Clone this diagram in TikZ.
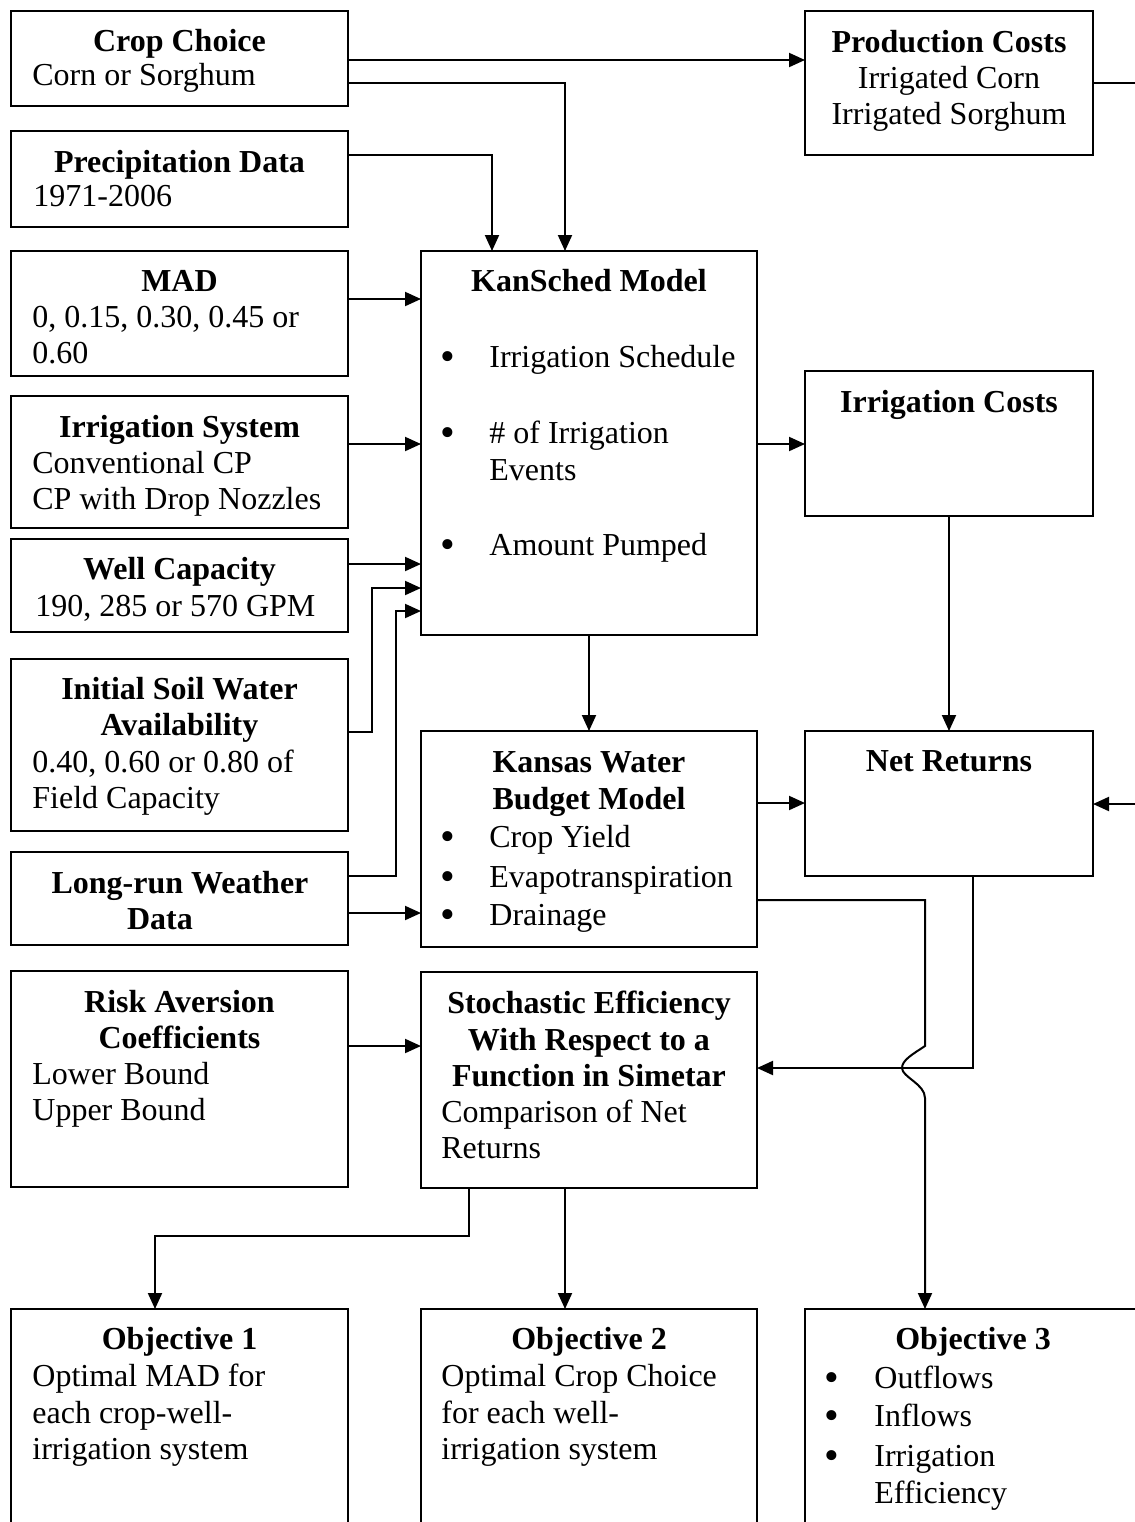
\documentclass[tikz,border=0pt]{standalone}
\usepackage{fontspec}
\setmainfont{Liberation Serif}
\usetikzlibrary{arrows.meta,fit,calc}
\newcommand\mybul{\raisebox{-1.5pt}{\fontsize{21}{18}\selectfont\textbullet}}
\begin{document}
\begin{tikzpicture}[x=0.5pt,y=-0.5pt,
  box/.style={draw, line width=1pt, inner sep=0pt, outer sep=0pt},
  txt/.style={inner sep=0pt, font=\fontsize{16}{18}\selectfont},
  ttl/.style={inner sep=0pt, font=\fontsize{16}{18}\selectfont\bfseries, anchor=base},
  lft/.style={txt, anchor=base west},
  ctr/.style={txt, anchor=base},
  bul/.style={inner sep=0pt, anchor=base},
  con/.style={line width=1pt, -{Triangle[length=8pt,width=7pt]}},
  ln/.style={line width=1pt}]
\useasboundingbox (0,0) rectangle (1135,1522);
\clip (0,0) rectangle (1135,1522);
\fill[white] (0,0) rectangle (1135,1522);

% ---------- boxes ----------
\node[box, fit={(11,11)(348,106)}] (crop) {};
\node[box, fit={(11,131)(348,227)}] (prec) {};
\node[box, fit={(11,251)(348,376)}] (mad) {};
\node[box, fit={(11,396)(348,528)}] (irr) {};
\node[box, fit={(11,539)(348,632)}] (well) {};
\node[box, fit={(11,659)(348,831)}] (soil) {};
\node[box, fit={(11,852)(348,945)}] (weather) {};
\node[box, fit={(11,971)(348,1187)}] (risk) {};
\node[box, fit={(11,1309)(348,1580)}] (obj1) {};

\node[box, fit={(421,251)(757,635)}] (kan) {};
\node[box, fit={(421,731)(757,947)}] (kwb) {};
\node[box, fit={(421,972)(757,1188)}] (stoch) {};
\node[box, fit={(421,1309)(757,1580)}] (obj2) {};

\node[box, fit={(805,11)(1093,155)}] (prod) {};
\node[box, fit={(805,371)(1093,516)}] (icost) {};
\node[box, fit={(805,731)(1093,876)}] (net) {};
\node[box, fit={(805,1309)(1170,1580)}] (obj3) {};

% ---------- texts: left column ----------
\node[ttl] (t1) at (179.5,51) {Crop Choice};
\node[lft] (t2) at (32,85) {Corn or Sorghum};
\node[ttl] (t3) at (179.5,172) {Precipitation Data};
\node[lft] (t4) at (33,206) {1971-2006};
\node[ttl] (t5) at (179.5,291) {MAD};
\node[lft] (t6) at (32,327) {0, 0.15, 0.30, 0.45 or};
\node[lft] (t7) at (32,363) {0.60};
\node[ttl] (t8) at (179.5,437) {Irrigation System};
\node[lft] (t9) at (32,473) {Conventional CP};
\node[lft] (t10) at (32,509) {CP with Drop Nozzles};
\node[ttl] (t11) at (179.5,579) {Well Capacity};
\node[lft] (t12) at (35,616) {190, 285 or 570 GPM};
\node[ttl] (t13) at (179.5,699) {Initial Soil Water};
\node[ttl] (t14) at (179.5,735) {Availability};
\node[lft] (t15) at (32,772) {0.40, 0.60 or 0.80 of};
\node[lft] (t16) at (32,808) {Field Capacity};
\node[ttl] (t17) at (180,893) {Long-run Weather};
\node[ttl] (t18) at (160,929) {Data};
\node[ttl] (t19) at (179.5,1012) {Risk Aversion};
\node[ttl] (t20) at (179.5,1048) {Coefficients};
\node[lft] (t21) at (32,1084) {Lower Bound};
\node[lft] (t22) at (32,1120) {Upper Bound};
\node[ttl] (t23) at (179.5,1349) {Objective 1};
\node[lft] (t24) at (32,1386) {Optimal MAD for};
\node[lft] (t25) at (32,1423) {each crop-well-};
\node[lft] (t26) at (32,1459) {irrigation system};

% ---------- texts: middle column ----------
\node[ttl] (m1) at (589,291) {KanSched Model};
\node[bul] (b1) at (448,367) {\mybul};
\node[lft] (m2) at (489,367) {Irrigation Schedule};
\node[bul] (b2) at (448,443) {\mybul};
\node[lft] (m3) at (489,443) {\# of Irrigation};
\node[lft] (m4) at (489,480) {Events};
\node[bul] (b3) at (448,555) {\mybul};
\node[lft] (m5) at (489,555) {Amount Pumped};

\node[ttl] (m6) at (589,772) {Kansas Water};
\node[ttl] (m7) at (589,809) {Budget Model};
\node[bul] (b4) at (448,847) {\mybul};
\node[lft] (m8) at (489,847) {Crop Yield};
\node[bul] (b5) at (448,887) {\mybul};
\node[lft] (m9) at (489,887) {Evapotranspiration};
\node[bul] (b6) at (448,925) {\mybul};
\node[lft] (m10) at (489,925) {Drainage};

\node[ttl] (m11) at (589,1013) {Stochastic Efficiency};
\node[ttl] (m12) at (589,1050) {With Respect to a};
\node[ttl] (m13) at (589,1086) {Function in Simetar};
\node[lft] (m14) at (441,1122) {Comparison of Net};
\node[lft] (m15) at (441,1158) {Returns};

\node[ttl] (m16) at (589,1349) {Objective 2};
\node[lft] (m17) at (441,1386) {Optimal Crop Choice};
\node[lft] (m18) at (441,1423) {for each well-};
\node[lft] (m19) at (441,1459) {irrigation system};

% ---------- texts: right column ----------
\node[ttl] (r1) at (949,52) {Production Costs};
\node[ctr] (r2) at (949,88) {Irrigated Corn};
\node[ctr] (r3) at (949,124) {Irrigated Sorghum};
\node[ttl] (r4) at (949,412) {Irrigation Costs};
\node[ttl] (r5) at (949,771) {Net Returns};
\node[ttl] (r6) at (973,1349) {Objective 3};
\node[bul] (b7) at (832,1388) {\mybul};
\node[lft] (r7) at (874,1388) {Outflows};
\node[bul] (b8) at (832,1426) {\mybul};
\node[lft] (r8) at (874,1426) {Inflows};
\node[bul] (b9) at (832,1466) {\mybul};
\node[lft] (r9) at (874,1466) {Irrigation};
\node[lft] (r10) at (874,1503) {Efficiency};

% ---------- connectors ----------
\draw[con] (crop.east |- 0,60) -- (prod.west |- 0,60);
\draw[con] (crop.east |- 0,83) -| (565,0 |- kan.north);
\draw[con] (prec.east |- 0,155) -| (492,0 |- kan.north);
\draw[con] (mad.east |- 0,299) -- (kan.west |- 0,299);
\draw[con] (irr.east |- 0,444) -- (kan.west |- 0,444);
\draw[con] (well.east |- 0,564) -- (kan.west |- 0,564);
\draw[con] (soil.east |- 0,732) -- (372,732) |- (kan.west |- 0,588);
\draw[con] (weather.east |- 0,876) -- (396,876) |- (kan.west |- 0,611);
\draw[con] (weather.east |- 0,913) -- (kwb.west |- 0,913);
\draw[con] (prod.east |- 0,83) -- (1180,83) |- (net.east |- 0,804);
\draw[con] (kan.east |- 0,444) -- (icost.west |- 0,444);
\draw[con] (kan.south) -- (kwb.north);
\draw[con] (icost.south) -- (net.north);
\draw[con] (kwb.east |- 0,803) -- (net.west |- 0,803);
\draw[con] (risk.east |- 0,1046) -- (stoch.west |- 0,1046);
\draw[con] (973,0 |- net.south) |- (stoch.east |- 0,1068);
\draw[con] (kwb.east |- 0,900) -| (925,1046)
   .. controls (913,1054) and (902,1060) .. (902,1068)
   .. controls (902,1077) and (925,1084) .. (925,1098)
   -- (925,0 |- obj3.north);
\draw[con] (469,0 |- stoch.south) -- (469,1236) -| (155,0 |- obj1.north);
\draw[con] (565,0 |- stoch.south) -- (565,0 |- obj2.north);
\end{tikzpicture}
\end{document}
